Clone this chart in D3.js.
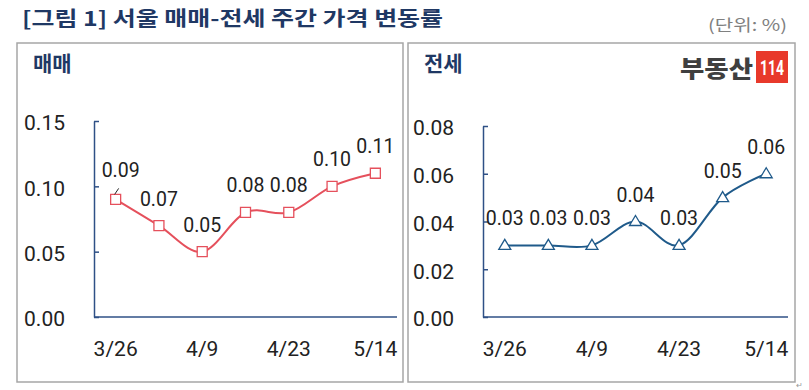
<!DOCTYPE html>
<html>
<head>
<meta charset="utf-8">
<script src="https://cdn.jsdelivr.net/npm/d3@7"></script>
<style>
  html, body { margin: 0; padding: 0; background: #fff; }
  svg { display: block; }
</style>
</head>
<body>
<svg id="chart" width="809" height="390"></svg>
<script>
// data
const weeks = ["3/26", "4/2", "4/9", "4/16", "4/23", "4/30", "5/14"];
const shownWeeks = ["3/26", "4/9", "4/23", "5/14"];
const saleValues = [0.09, 0.07, 0.05, 0.08, 0.08, 0.10, 0.11];
const jeonseValues = [0.03, 0.03, 0.03, 0.04, 0.03, 0.05, 0.06];
const saleTicks = [0, 0.05, 0.10, 0.15];
const jeonseTicks = [0, 0.02, 0.04, 0.06, 0.08];

const svg = d3.select("#chart");
const KR = "'Noto Sans CJK KR', 'Noto Sans', sans-serif";
const NUM = "Roboto, 'Noto Sans', sans-serif";
const navy = "#1f3864";
const axisColor = "#2f5086";

// 제목
svg.append("text")
  .attr("x", 22).attr("y", 26)
  .attr("font-family", KR).attr("font-size", 20).attr("font-weight", 700)
  .attr("fill", navy)
  .attr("textLength", 421).attr("lengthAdjust", "spacingAndGlyphs")
  .text("[그림 1] 서울 매매-전세 주간 가격 변동률");

svg.append("text")
  .attr("x", 787).attr("y", 31)
  .attr("text-anchor", "end")
  .attr("font-family", KR).attr("font-size", 16)
  .attr("fill", "#808080")
  .attr("textLength", 79).attr("lengthAdjust", "spacingAndGlyphs")
  .text("(단위: %)");

function drawPanel(opt) {
  const g = svg.append("g");

  // 패널 테두리
  g.append("rect")
    .attr("x", opt.box[0]).attr("y", opt.box[1])
    .attr("width", opt.box[2]).attr("height", opt.box[3])
    .attr("fill", "#fff").attr("stroke", "#a6a6a6").attr("stroke-width", 1.5);

  g.append("text")
    .attr("x", opt.box[0] + 16).attr("y", 71)
    .attr("font-family", KR).attr("font-size", 21).attr("font-weight", 700)
    .attr("fill", navy)
    .text(opt.title);

  const x = d3.scaleBand().domain(weeks).range([opt.x0, opt.x1]);
  const y = d3.scaleLinear().domain(opt.domain).range([317, opt.yTop]);
  const cx = d => x(d) + x.bandwidth() / 2;

  // y축
  const ya = g.append("g")
    .attr("transform", `translate(${opt.x0},0)`)
    .call(d3.axisLeft(y).tickValues(opt.ticks).tickFormat(d3.format(".2f"))
      .tickSizeInner(-5).tickSizeOuter(0).tickPadding(29));
  ya.select(".domain").attr("stroke", axisColor).attr("stroke-width", 1.5);
  ya.selectAll(".tick line").attr("stroke", axisColor).attr("stroke-width", 1.5);
  ya.selectAll(".tick text")
    .attr("font-family", NUM).attr("font-size", 21).attr("fill", "#222")
    .attr("dy", "0.42em");

  // x축
  const xa = g.append("g")
    .attr("transform", "translate(0,317)")
    .call(d3.axisBottom(x).tickValues(shownWeeks).tickSize(0).tickPadding(24));
  xa.select(".domain").attr("stroke", axisColor).attr("stroke-width", 1.5)
    .attr("d", `M${opt.x0},0H${opt.x1}`);
  xa.selectAll(".tick text")
    .attr("font-family", NUM).attr("font-size", 21).attr("fill", "#222");

  const vals = opt.values;

  // 선
  g.append("path")
    .datum(vals)
    .attr("fill", "none")
    .attr("stroke", opt.color)
    .attr("stroke-width", 2)
    .attr("d", d3.line()
      .x((d, i) => cx(weeks[i]))
      .y(d => y(d))
      .curve(d3.curveCardinal.tension(0)));

  // 마커
  g.selectAll(".mk")
    .data(vals)
    .join("path")
    .attr("class", "mk")
    .attr("transform", (d, i) => `translate(${cx(weeks[i])},${y(d)})`)
    .attr("d", opt.marker)
    .attr("fill", "#fff")
    .attr("stroke", opt.color)
    .attr("stroke-width", 1.3);

  // 데이터 레이블
  g.selectAll(".lbl")
    .data(vals)
    .join("text")
    .attr("class", "lbl")
    .attr("x", (d, i) => cx(weeks[i]) + (opt.shiftFirst && i === 0 ? 5 : 0))
    .attr("y", (d, i) => y(d) - 20 - (opt.shiftFirst && i === 0 ? 2 : 0))
    .attr("text-anchor", "middle")
    .attr("font-family", NUM).attr("font-size", 19.5).attr("fill", "#222")
    .text(d => d3.format(".2f")(d));

  if (opt.shiftFirst) {
    const px = cx(weeks[0]), py = y(vals[0]);
    g.append("line")
      .attr("x1", px - 1).attr("y1", py - 5)
      .attr("x2", px + 3).attr("y2", py - 11)
      .attr("stroke", "#222").attr("stroke-width", 1);
  }
  return g;
}

const sq = "M-5,-5H5V5H-5Z";
const tri = "M0,-6L6,4H-6Z";

drawPanel({
  box: [17, 43, 386, 339], title: "매매",
  x0: 94, x1: 397, yTop: 121, domain: [0, 0.15], ticks: saleTicks,
  values: saleValues, color: "#e5505c", marker: sq, shiftFirst: true
});

drawPanel({
  box: [408, 43, 387, 339], title: "전세",
  x0: 483, x1: 788, yTop: 126, domain: [0, 0.08], ticks: jeonseTicks,
  values: jeonseValues, color: "#1f5a8a", marker: tri, shiftFirst: false
});

// 로고
svg.append("text")
  .attr("x", 753).attr("y", 77)
  .attr("text-anchor", "end")
  .attr("font-family", KR).attr("font-size", 23).attr("font-weight", 900)
  .attr("fill", "#3f3f3f")
  .attr("textLength", 73).attr("lengthAdjust", "spacingAndGlyphs")
  .text("부동산");
svg.append("rect")
  .attr("x", 756).attr("y", 51).attr("width", 32).attr("height", 32)
  .attr("fill", "#e8392b");
svg.append("text")
  .attr("x", 772).attr("y", 75)
  .attr("text-anchor", "middle")
  .attr("font-family", NUM).attr("font-size", 20).attr("font-weight", 700)
  .attr("fill", "#fff")
  .attr("textLength", 24).attr("lengthAdjust", "spacingAndGlyphs")
  .text("114");

svg.append("text")
  .attr("x", 796).attr("y", 388)
  .attr("font-family", NUM).attr("font-size", 8).attr("fill", "#999")
  .text("↵");
</script>
</body>
</html>
